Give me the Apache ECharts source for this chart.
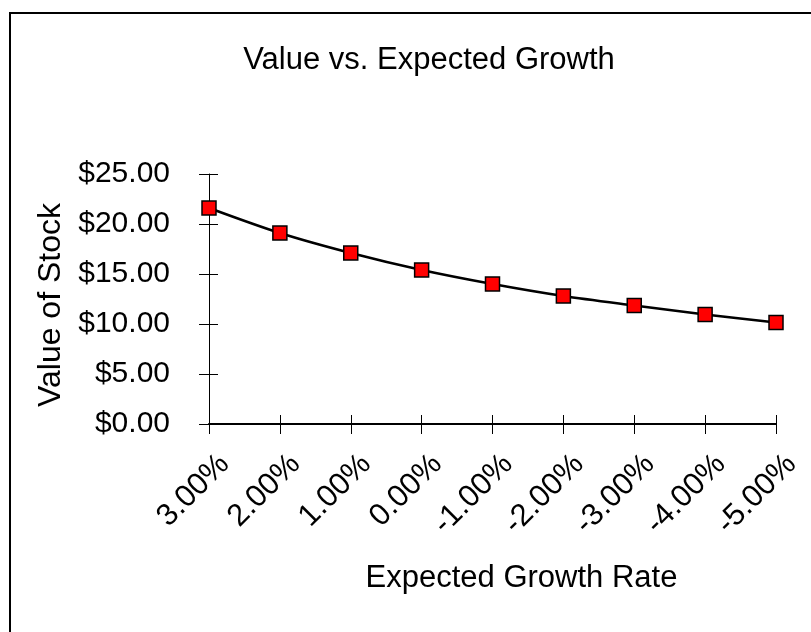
<!DOCTYPE html>
<html>
<head>
<meta charset="utf-8">
<script src="https://cdn.jsdelivr.net/npm/echarts@6/dist/echarts.min.js"></script>
<style>
  html, body { margin: 0; padding: 0; background: #fff; }
  #chart { width: 811px; height: 632px; }
</style>
</head>
<body>
<div id="chart"></div>
<script>
// Expected growth rates (category axis) and the resulting stock value
const growthRates = ['3.00%', '2.00%', '1.00%', '0.00%', '-1.00%', '-2.00%', '-3.00%', '-4.00%', '-5.00%'];
const stockValues = [21.6, 19.1, 17.1, 15.4, 14.0, 12.8, 11.85, 10.95, 10.15];
const valueTicks = [0, 5, 10, 15, 20, 25];

const FONT = 'Liberation Sans, Arial, sans-serif';
const chart = echarts.init(document.getElementById('chart'));

const yMin = valueTicks[0];
const yMax = valueTicks[valueTicks.length - 1];
const yStep = valueTicks[1] - valueTicks[0];

const grid = { left: 209, right: 35, top: 174, bottom: 208 };

chart.setOption({
  backgroundColor: '#fff',
  animation: false,
  title: {
    text: 'Value vs. Expected Growth',
    left: 424,
    top: 40,
    textAlign: 'center',
    textStyle: { fontFamily: FONT, fontSize: 31, fontWeight: 'normal', color: '#000' }
  },
  graphic: [{
    type: 'rect',
    shape: { x: 10, y: 13, width: 1000, height: 1000 },
    style: { fill: 'none', stroke: '#000', lineWidth: 2 },
    silent: true
  }],
  grid: grid,
  xAxis: [{
    type: 'category',
    data: growthRates,
    boundaryGap: false,
    name: 'Expected Growth Rate',
    nameLocation: 'middle',
    nameGap: 139,
    nameTextStyle: { fontFamily: FONT, fontSize: 31, color: '#000', padding: [0, 0, 0, 58] },
    axisLine: { lineStyle: { color: '#000', width: 2 } },
    axisTick: { show: true, length: 10, lineStyle: { color: '#000', width: 1 } },
    axisLabel: {
      rotate: 45, margin: 51, interval: 0,
      padding: [0, -22, 0, 0],
      fontFamily: FONT, fontSize: 31, color: '#000'
    },
    splitLine: { show: false }
  }, {
    // upper half of the crossing tick marks
    type: 'category',
    data: growthRates,
    boundaryGap: false,
    position: 'bottom',
    axisLine: { show: false },
    axisTick: { show: true, inside: true, length: 9, lineStyle: { color: '#000', width: 1 } },
    axisLabel: { show: false },
    splitLine: { show: false }
  }],
  yAxis: [{
    type: 'value',
    min: yMin, max: yMax, interval: yStep,
    name: 'Value of Stock',
    nameLocation: 'middle',
    nameGap: 128,
    nameRotate: 90,
    nameTextStyle: { fontFamily: FONT, fontSize: 32, color: '#000', padding: [0, 12, 0, 0] },
    axisLine: { show: true, lineStyle: { color: '#000', width: 1 } },
    axisTick: { show: true, length: 10, lineStyle: { color: '#000', width: 1 } },
    axisLabel: {
      margin: 39,
      fontFamily: FONT, fontSize: 30, color: '#000',
      formatter: v => '$' + v.toFixed(2)
    },
    splitLine: { show: false }
  }, {
    // right half of the crossing tick marks
    type: 'value',
    min: yMin, max: yMax, interval: yStep,
    position: 'left',
    axisLine: { show: false },
    axisTick: { show: true, inside: true, length: 9, lineStyle: { color: '#000', width: 1 } },
    axisLabel: { show: false },
    splitLine: { show: false }
  }],
  series: [{
    type: 'line',
    data: stockValues,
    smooth: 0.3,
    symbol: 'rect',
    symbolSize: 14,
    lineStyle: { color: '#000', width: 2.5 },
    itemStyle: { color: '#ff0000', borderColor: '#000', borderWidth: 1.5 },
    z: 3
  }]
});
</script>
</body>
</html>
